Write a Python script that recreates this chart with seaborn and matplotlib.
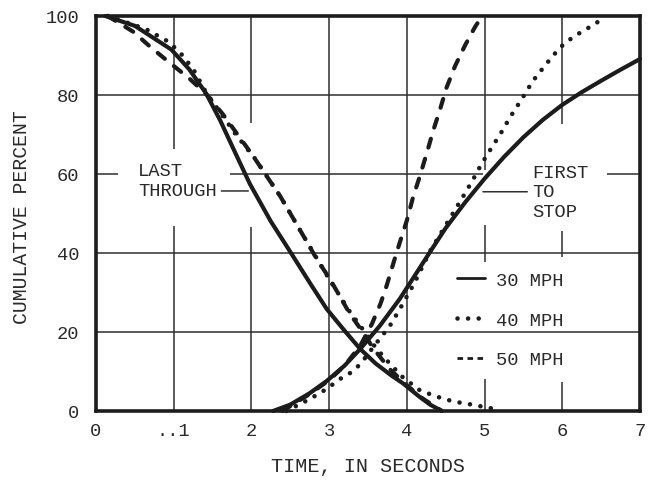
import matplotlib
matplotlib.use("Agg")
import matplotlib.pyplot as plt
import seaborn as sns
import pandas as pd
from matplotlib.lines import Line2D

# ---------------- data ----------------
# "LAST THROUGH" curves (decreasing)
last30_t = [0.12, 0.5, 0.97, 1.2, 1.42, 1.6, 1.77, 1.98, 2.25, 2.5, 2.75, 2.97, 3.2, 3.4, 3.6, 3.8, 3.95, 4.15, 4.3, 4.45]
last30_p = [100, 97.5, 91.5, 86.5, 80.3, 73.5, 66.3, 57.5, 48.0, 40.3, 32.5, 25.8, 20.3, 15.7, 12.0, 9.0, 7.0, 3.8, 1.6, 0]

last40_t = [0.15, 0.64, 0.94, 1.1, 1.25, 1.42, 1.63, 1.8, 2.05, 2.37, 2.67, 3.0, 3.27, 3.44, 3.6, 3.78, 3.95, 4.17, 4.39, 4.6, 4.81, 5.03, 5.2]
last40_p = [100, 96.7, 93.4, 90.3, 86.6, 80.5, 74.7, 70.0, 63.8, 54.4, 44.3, 33.4, 25.0, 20.5, 16.0, 12.0, 8.5, 5.2, 3.6, 2.4, 1.7, 0.9, 0.2]

last50_t = [0.15, 0.48, 0.71, 0.94, 1.2, 1.42, 1.63, 1.8, 2.02, 2.37, 2.67, 2.84, 3.01, 3.27, 3.44, 3.57, 3.78, 4.0, 4.2, 4.45]
last50_p = [100, 96, 92, 88.3, 84.2, 80.2, 75.2, 70.6, 64.6, 54.4, 44.3, 38.5, 33.4, 24.5, 19.8, 15.8, 10.6, 6.5, 3.2, 0]

# "FIRST TO STOP" curves (increasing)
first30_t = [2.28, 2.5, 2.75, 2.97, 3.2, 3.4, 3.65, 3.91, 4.1, 4.3, 4.5, 4.75, 5.0, 5.25, 5.5, 5.75, 6.0, 6.25, 6.5, 6.75, 7.0]
first30_p = [0, 1.6, 4.5, 7.6, 11.5, 15.7, 21.5, 28.4, 34.2, 40.3, 46.3, 52.8, 58.8, 64.3, 69.3, 73.7, 77.5, 80.7, 83.6, 86.4, 89.1]

first40_t = [2.45, 2.75, 2.97, 3.14, 3.27, 3.4, 3.62, 3.78, 3.91, 4.1, 4.3, 4.5, 4.73, 4.85, 4.96, 5.07, 5.2, 5.33, 5.48, 5.62, 5.8, 5.97, 6.14, 6.32, 6.5]
first40_p = [0, 3.0, 5.6, 8.1, 9.6, 11.8, 17.5, 21.5, 25.8, 32.5, 40.5, 47.0, 54.5, 58.5, 62.5, 66.0, 70.0, 74.4, 79.0, 83.5, 88.0, 92.0, 94.7, 96.8, 99.0]

first50_t = [2.4, 2.75, 3.0, 3.2, 3.4, 3.55, 3.66, 3.74, 3.83, 3.91, 4.0, 4.08, 4.17, 4.26, 4.34, 4.43, 4.51, 4.62, 4.75, 4.88, 4.97]
first50_p = [0, 4.3, 7.8, 11.5, 16.5, 22.0, 27.1, 31.7, 37.6, 42.7, 48.2, 54.1, 59.6, 65.5, 71.0, 76.5, 81.8, 87.3, 92.6, 97.3, 100]

speeds = ["30 MPH", "40 MPH", "50 MPH"]
x_ticks = [0, 1, 2, 3, 4, 5, 6, 7]
x_ticklabels = ["0", "..1", "2", "3", "4", "5", "6", "7"]
y_ticks = [0, 20, 40, 60, 80, 100]
y_ticklabels = ["0", "20", "40", "60", "80", "100"]

# ---------------- styling ----------------
sns.set_style("white")
plt.rcParams['font.family'] = ['Liberation Mono', 'DejaVu Sans Mono']
INK = '#1c1c1c'
GRID = '#2e2e2e'
TXT = '#2a2a2a'

styles = {
    "30 MPH": dict(lw=3.0, linestyle='-', solid_capstyle='round'),
    "40 MPH": dict(lw=3.3, linestyle=(0, (0.01, 2.3)), dash_capstyle='round'),
    "50 MPH": dict(lw=3.0, linestyle=(0, (2.2, 2.8)), dash_capstyle='round'),
}

fig = plt.figure(figsize=(6.48, 4.81), dpi=100)
fig.patch.set_facecolor('white')
ax = fig.add_axes([0.1481, 0.1435, 0.8395, 0.8212])
ax.set_xlim(0, 7)
ax.set_ylim(0, 100)

# grid lines (broken where labels / legend sit, as in the original)
vgrid = [(1, [(0, 46.8), (66.3, 100)]),
         (2, [(0, 46.6), (73, 100)]),
         (3, [(0, 100)]),
         (4, [(0, 100)]),
         (5, [(0, 8), (37.7, 47), (61, 100)]),
         (6, [(0, 7.3), (39, 45.5), (72.7, 100)])]
for xv, segs in vgrid:
    for a, b in segs:
        ax.vlines(xv, a, b, color=GRID, lw=1.1, zorder=1)
hgrid = [(20, [(0, 7)]), (40, [(0, 7)]), (60, [(0, 0.28), (1.72, 4.98), (6.58, 7)]), (80, [(0, 7)])]
for yv, segs in hgrid:
    for a, b in segs:
        ax.hlines(yv, a, b, color=GRID, lw=1.1, zorder=1)

series = [
    ("30 MPH", last30_t, last30_p), ("40 MPH", last40_t, last40_p), ("50 MPH", last50_t, last50_p),
    ("30 MPH", first30_t, first30_p), ("40 MPH", first40_t, first40_p), ("50 MPH", first50_t, first50_p),
]
for spd, tt, pp in series:
    df = pd.DataFrame({"time": tt, "pct": pp})
    sns.lineplot(data=df, x="time", y="pct", ax=ax, color=INK, estimator=None,
                 sort=False, zorder=3, clip_on=False, **styles[spd])

# axes frame
for s in ax.spines.values():
    s.set_visible(True)
    s.set_color(INK)
    s.set_linewidth(2.6)
    s.set_zorder(4)

ax.set_xticks(x_ticks)
ax.set_xticklabels(x_ticklabels)
ax.set_yticks(y_ticks)
ax.set_yticklabels(y_ticklabels)
ax.tick_params(axis='both', length=0, labelsize=13.5, colors=TXT)
ax.tick_params(axis='x', pad=8)
ax.tick_params(axis='y', pad=12)

ax.set_xlabel("TIME, IN SECONDS", fontsize=14.5, color=TXT)
ax.xaxis.set_label_coords(0.5, -0.137)
ax.xaxis.label.set_va('center')
ax.set_ylabel("CUMULATIVE PERCENT", fontsize=14.2, color=TXT)
ax.yaxis.set_label_coords(-0.136, 0.494)
ax.yaxis.label.set_va('center')

# curve-family labels with leader lines
lab_fs = 13.5
ax.text(0.54, 60.8, "LAST", fontsize=lab_fs, color=TXT, ha='left', va='center', zorder=5)
ax.annotate("THROUGH", xy=(1.96, 55.7), xytext=(0.54, 55.7), fontsize=lab_fs, color=TXT,
            ha='left', va='center', zorder=5,
            arrowprops=dict(arrowstyle='-', color=GRID, lw=1.1, shrinkA=1, shrinkB=0))
ax.text(5.61, 60.4, "FIRST", fontsize=lab_fs, color=TXT, ha='left', va='center', zorder=5)
ax.annotate("TO", xy=(4.98, 55.5), xytext=(5.61, 55.5), fontsize=lab_fs, color=TXT,
            ha='left', va='center', zorder=5,
            arrowprops=dict(arrowstyle='-', color=GRID, lw=1.1, shrinkA=1, shrinkB=0))
ax.text(5.61, 50.6, "STOP", fontsize=lab_fs, color=TXT, ha='left', va='center', zorder=5)

# legend
handles = [Line2D([], [], color=INK, lw=2.0, linestyle='-'),
           Line2D([], [], color=INK, lw=3.3, linestyle=(0, (0.01, 2.3)), dash_capstyle='round'),
           Line2D([], [], color=INK, lw=2.0, linestyle=(0, (2.0, 1.6)))]
leg = ax.legend(handles, speeds, loc='upper left', bbox_to_anchor=(4.65, 35.2),
                bbox_transform=ax.transData, frameon=False, borderpad=0, borderaxespad=0,
                handlelength=1.45, handletextpad=0.6, labelspacing=1.2,
                prop={'family': 'Liberation Mono', 'size': 13.5})
for t in leg.get_texts():
    t.set_color(TXT)

fig.savefig("out.png", dpi=100, facecolor='white')
